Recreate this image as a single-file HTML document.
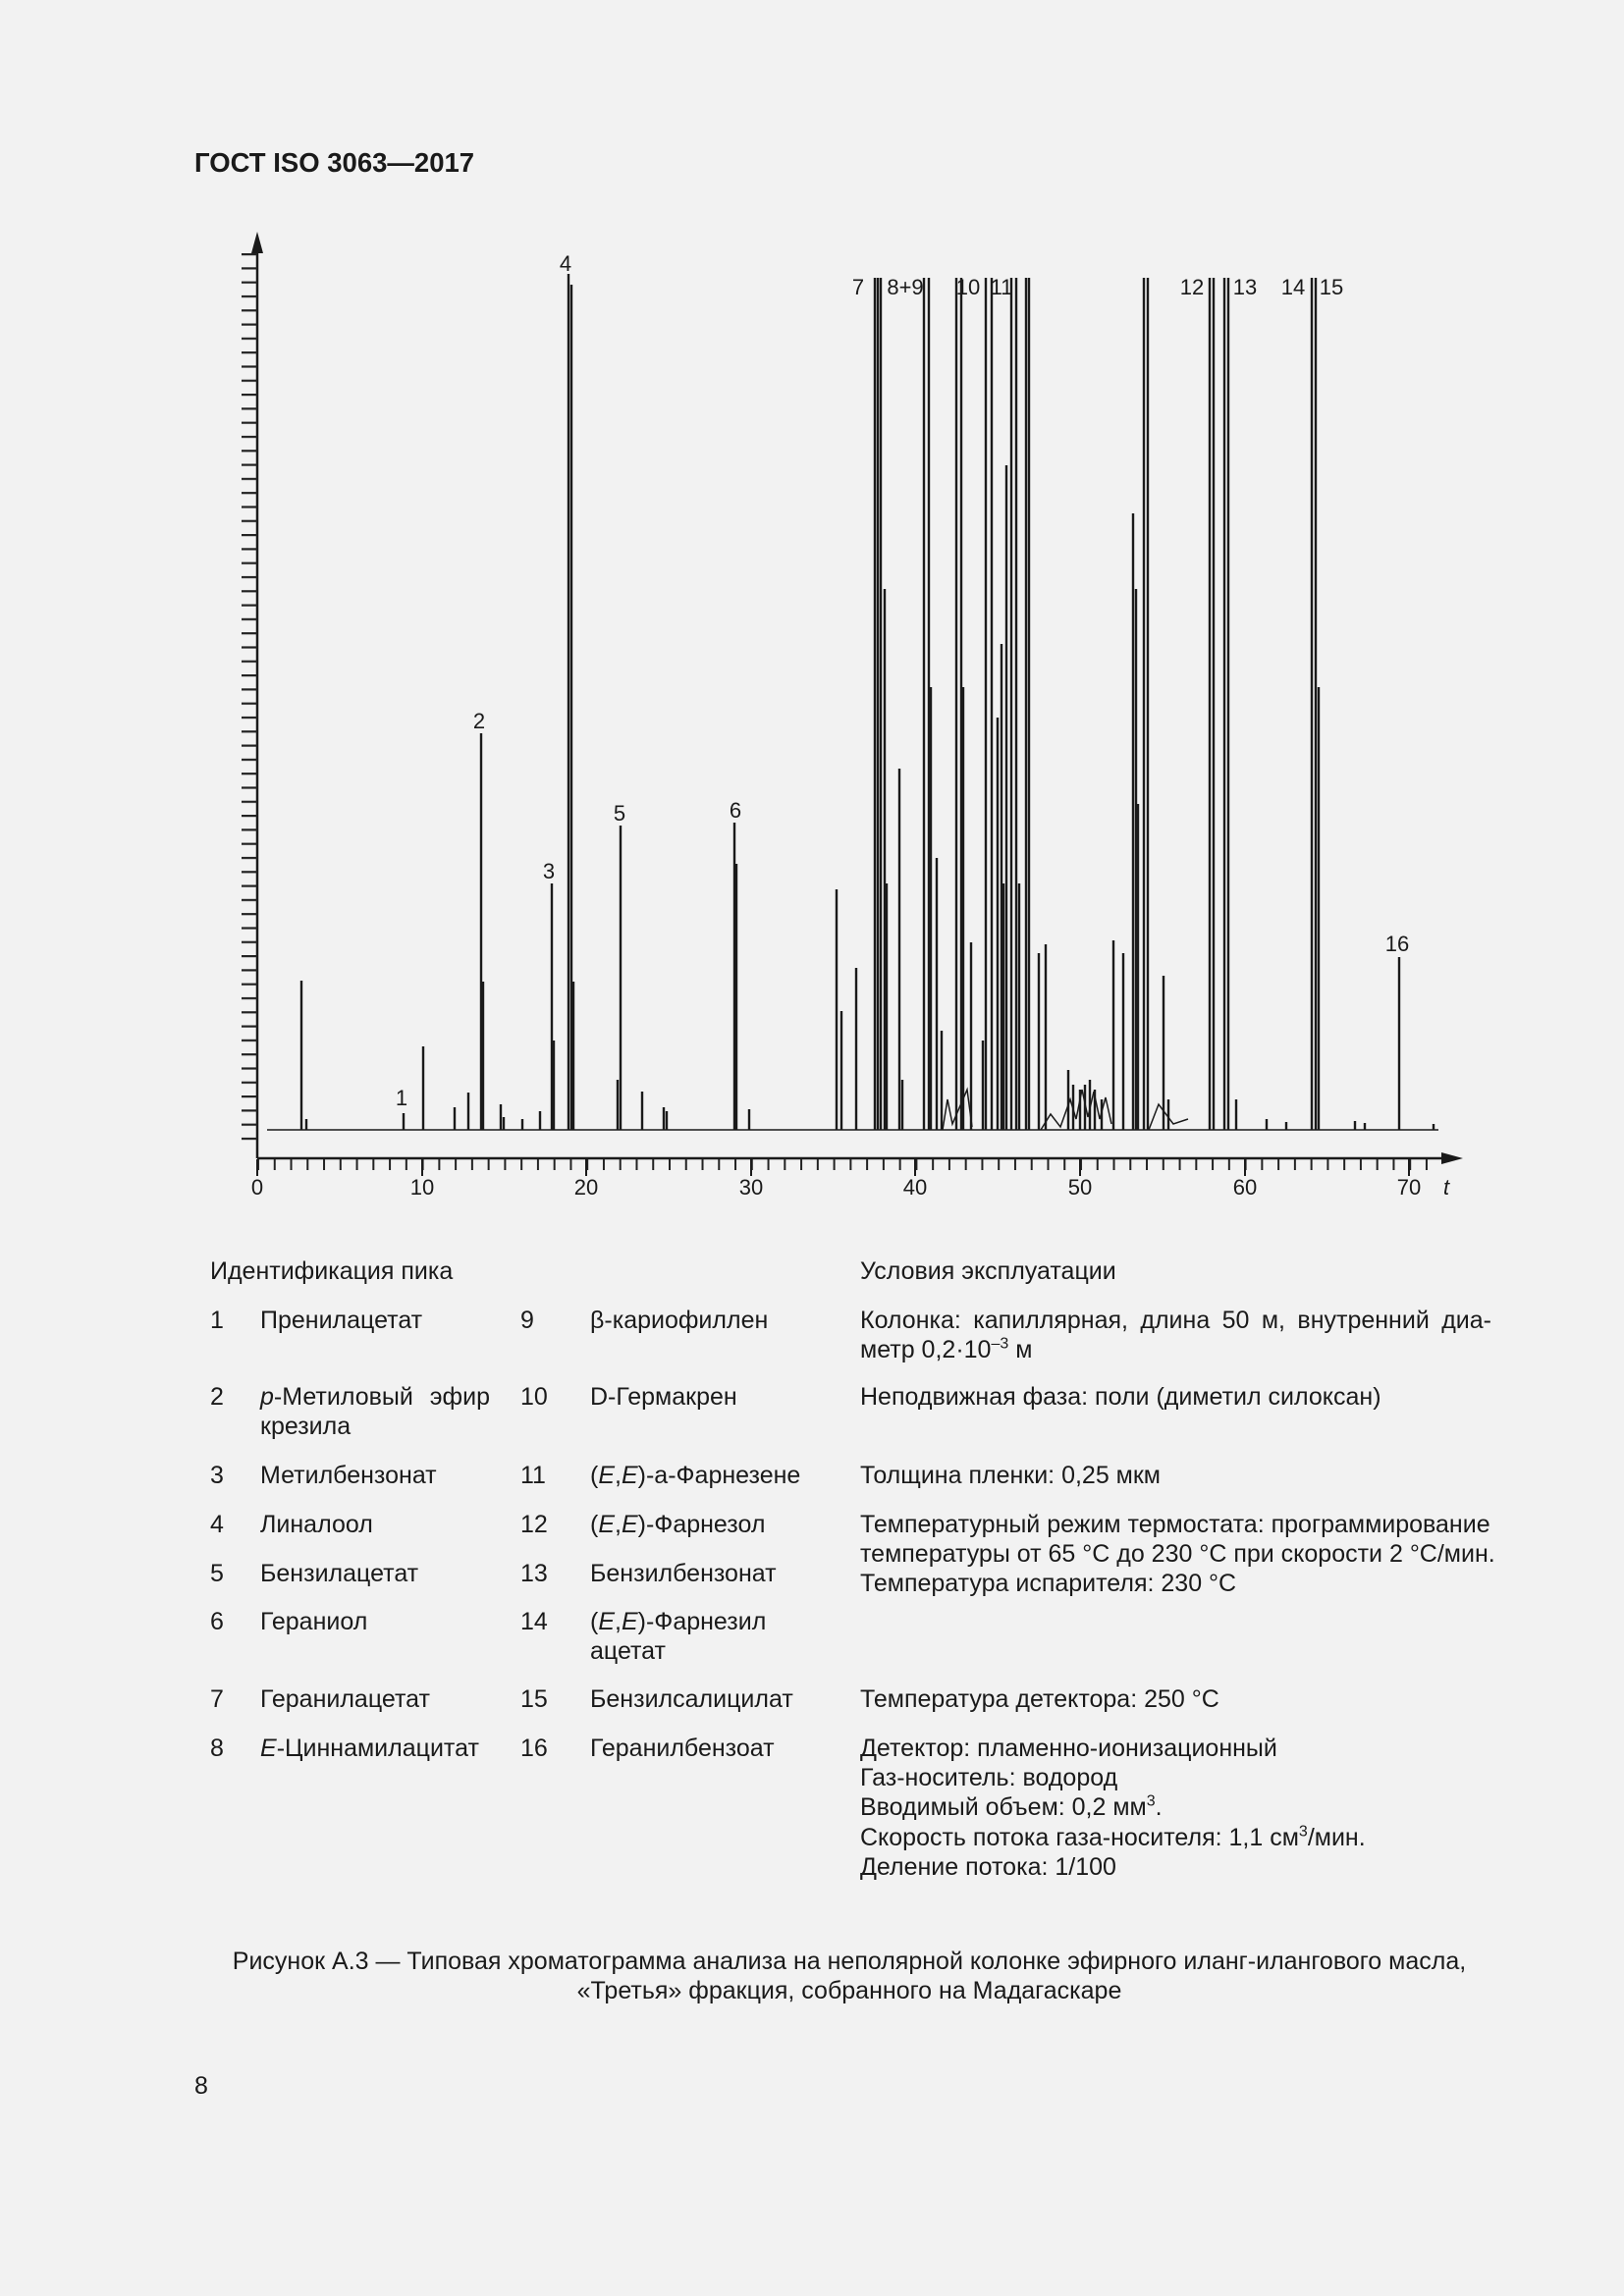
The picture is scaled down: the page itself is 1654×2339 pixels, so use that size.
<!DOCTYPE html>
<html><head><meta charset="utf-8"><style>
html,body{margin:0;padding:0;background:#f2f2f2}
body{width:1654px;height:2339px;position:relative;overflow:hidden;font-family:"Liberation Sans",sans-serif;color:#1a1a1a}
.t{position:absolute;font-size:25px;line-height:30px;white-space:nowrap}
.j{position:absolute;font-size:25px;line-height:30px;text-align:justify;text-align-last:justify}
sup{font-size:16px;line-height:0}
</style></head><body>
<div class="t" style="left:198px;top:151px;font-weight:bold;font-size:27.5px">ГОСТ ISO 3063—2017</div>

<svg style="position:absolute;left:0;top:0" width="1654" height="1260" viewBox="0 0 1654 1260">
<defs>
<pattern id="xt" x="262" y="0" width="16.76" height="20" patternUnits="userSpaceOnUse"><rect x="0" y="0" width="2" height="20" fill="#222"/></pattern>
<pattern id="yt" x="0" y="258" width="20" height="14.3" patternUnits="userSpaceOnUse"><rect x="0" y="0" width="20" height="2.2" fill="#222"/></pattern>
</defs>
<g stroke="#1a1a1a" fill="none">
<line x1="262" y1="1180" x2="262" y2="250" stroke-width="2.5"/>
<line x1="262" y1="1180" x2="1475" y2="1180" stroke-width="2.5"/>
</g>
<polygon points="262,236 256,258 268,258" fill="#1a1a1a"/>
<polygon points="1490,1180 1468,1174 1468,1186" fill="#1a1a1a"/>
<rect x="246" y="258" width="16" height="915" fill="url(#yt)"/>
<rect x="261" y="1181" width="1205" height="11" fill="url(#xt)"/>
<g stroke="#1a1a1a" stroke-width="2">
<line x1="262" y1="1181" x2="262" y2="1198"/><line x1="430" y1="1181" x2="430" y2="1198"/><line x1="597" y1="1181" x2="597" y2="1198"/><line x1="765" y1="1181" x2="765" y2="1198"/><line x1="932" y1="1181" x2="932" y2="1198"/><line x1="1100" y1="1181" x2="1100" y2="1198"/><line x1="1268" y1="1181" x2="1268" y2="1198"/><line x1="1435" y1="1181" x2="1435" y2="1198"/>
</g>
<g font-family="Liberation Sans, sans-serif" font-size="22" fill="#1a1a1a" text-anchor="middle">
<text x="262" y="1217">0</text><text x="430" y="1217">10</text><text x="597" y="1217">20</text><text x="765" y="1217">30</text><text x="932" y="1217">40</text><text x="1100" y="1217">50</text><text x="1268" y="1217">60</text><text x="1435" y="1217">70</text>
<text x="1473" y="1217" font-style="italic">t</text>
<text x="576" y="276">4</text>
<text x="874" y="300">7</text>
<text x="922" y="300">8+9</text>
<text x="986" y="300">10</text>
<text x="1020" y="300">11</text>
<text x="1214" y="300">12</text>
<text x="1268" y="300">13</text>
<text x="1317" y="300">14</text>
<text x="1356" y="300">15</text>
<text x="1423" y="969">16</text>
<text x="488" y="742">2</text>
<text x="559" y="895">3</text>
<text x="631" y="836">5</text>
<text x="749" y="833">6</text>
<text x="409" y="1126">1</text>
</g>
<path fill="none" stroke="#1a1a1a" stroke-width="1.5" d="M272 1151 H1465
M1060 1151 L1070 1135 L1080 1148 L1090 1120 L1096 1140 L1102 1110 L1108 1138 L1114 1112 L1120 1140 L1126 1118 L1132 1145
M960 1151 L965 1120 L970 1145 L985 1110 L990 1148 M1170 1151 L1180 1125 L1195 1145 L1210 1140"/>
<path fill="none" stroke="#1a1a1a" stroke-width="2.4" d="
M307 1151V999 M312 1151V1140 M411 1151V1134 M431 1151V1066 M463 1151V1128 M477 1151V1113 M490 1151V747 M492 1151V1000 M510 1151V1125 M513 1151V1138 M532 1151V1140 M550 1151V1132
M562 1151V900 M564 1151V1060 M579 1151V279 M582 1151V290 M584 1151V1000 M629 1151V1100 M632 1151V841 M654 1151V1112 M676 1151V1128 M679 1151V1132
M748 1151V838 M750 1151V880 M763 1151V1130 M852 1151V906 M857 1151V1030 M872 1151V986
M891 1151V283 M894 1151V283 M897 1151V283 M901 1151V600 M903 1151V900 M916 1151V783 M919 1151V1100
M941 1151V283 M946 1151V283 M948 1151V700 M954 1151V874 M959 1151V1050
M974 1151V283 M979 1151V283 M981 1151V700 M989 1151V960 M1001 1151V1060 M1004 1151V283 M1010 1151V283
M1016 1151V731 M1020 1151V656 M1022 1151V900 M1025 1151V474 M1030 1151V283 M1035 1151V283 M1038 1151V900 M1045 1151V283 M1048 1151V283
M1058 1151V971 M1065 1151V962 M1088 1151V1090 M1093 1151V1105 M1100 1151V1110 M1105 1151V1105 M1110 1151V1100 M1115 1151V1110 M1122 1151V1120
M1134 1151V958 M1144 1151V971 M1154 1151V523 M1157 1151V600 M1159 1151V819 M1165 1151V283 M1169 1151V283 M1185 1151V994 M1190 1151V1120
M1232 1151V283 M1236 1151V283 M1247 1151V283 M1251 1151V283 M1259 1151V1120 M1290 1151V1140 M1310 1151V1143
M1336 1151V283 M1340 1151V283 M1343 1151V700 M1380 1151V1142 M1390 1151V1144 M1425 1151V975 M1460 1151V1145"/>
</svg>

<div class="t" style="left:214px;top:1280px">Идентификация пика</div>
<div class="t" style="left:876px;top:1280px">Условия эксплуатации</div>

<div class="t" style="left:214px;top:1330px">1</div><div class="t" style="left:265px;top:1330px">Пренилацетат</div>
<div class="t" style="left:530px;top:1330px">9</div><div class="t" style="left:601px;top:1330px">β-кариофиллен</div>
<div class="j" style="left:876px;top:1330px;width:643px">Колонка: капиллярная, длина 50 м, внутренний диа-</div>
<div class="t" style="left:876px;top:1360px">метр 0,2·10<sup>–3</sup> м</div>

<div class="t" style="left:214px;top:1408px">2</div><div class="j" style="left:265px;top:1408px;width:234px"><i>p</i>-Метиловый эфир</div>
<div class="t" style="left:265px;top:1438px">крезила</div>
<div class="t" style="left:530px;top:1408px">10</div><div class="t" style="left:601px;top:1408px">D-Гермакрен</div>
<div class="t" style="left:876px;top:1408px">Неподвижная фаза: поли (диметил силоксан)</div>

<div class="t" style="left:214px;top:1488px">3</div><div class="t" style="left:265px;top:1488px">Метилбензонат</div>
<div class="t" style="left:530px;top:1488px">11</div><div class="t" style="left:601px;top:1488px">(<i>E</i>,<i>E</i>)-а-Фарнезене</div>
<div class="t" style="left:876px;top:1488px">Толщина пленки: 0,25 мкм</div>

<div class="t" style="left:214px;top:1538px">4</div><div class="t" style="left:265px;top:1538px">Линалоол</div>
<div class="t" style="left:530px;top:1538px">12</div><div class="t" style="left:601px;top:1538px">(<i>E</i>,<i>E</i>)-Фарнезол</div>
<div class="t" style="left:876px;top:1538px">Температурный режим термостата: программирование</div>
<div class="t" style="left:876px;top:1568px">температуры от 65 °С до 230 °С при скорости 2 °С/мин.</div>
<div class="t" style="left:876px;top:1598px">Температура испарителя: 230 °С</div>

<div class="t" style="left:214px;top:1588px">5</div><div class="t" style="left:265px;top:1588px">Бензилацетат</div>
<div class="t" style="left:530px;top:1588px">13</div><div class="t" style="left:601px;top:1588px">Бензилбензонат</div>

<div class="t" style="left:214px;top:1637px">6</div><div class="t" style="left:265px;top:1637px">Гераниол</div>
<div class="t" style="left:530px;top:1637px">14</div><div class="t" style="left:601px;top:1637px">(<i>E</i>,<i>E</i>)-Фарнезил</div>
<div class="t" style="left:601px;top:1667px">ацетат</div>

<div class="t" style="left:214px;top:1716px">7</div><div class="t" style="left:265px;top:1716px">Геранилацетат</div>
<div class="t" style="left:530px;top:1716px">15</div><div class="t" style="left:601px;top:1716px">Бензилсалицилат</div>
<div class="t" style="left:876px;top:1716px">Температура детектора: 250 °С</div>

<div class="t" style="left:214px;top:1766px">8</div><div class="t" style="left:265px;top:1766px"><i>E</i>-Циннамилацитат</div>
<div class="t" style="left:530px;top:1766px">16</div><div class="t" style="left:601px;top:1766px">Геранилбензоат</div>
<div class="t" style="left:876px;top:1766px">Детектор: пламенно-ионизационный</div>
<div class="t" style="left:876px;top:1796px">Газ-носитель: водород</div>
<div class="t" style="left:876px;top:1826px">Вводимый объем: 0,2 мм<sup>3</sup>.</div>
<div class="t" style="left:876px;top:1857px">Скорость потока газа-носителя: 1,1 см<sup>3</sup>/мин.</div>
<div class="t" style="left:876px;top:1887px">Деление потока: 1/100</div>

<div class="t" style="left:38px;width:1654px;text-align:center;top:1983px">Рисунок А.3 — Типовая хроматограмма анализа на неполярной колонке эфирного иланг-илангового масла,</div>
<div class="t" style="left:38px;width:1654px;text-align:center;top:2013px">«Третья» фракция, собранного на Мадагаскаре</div>

<div class="t" style="left:198px;top:2110px">8</div>
</body></html>
